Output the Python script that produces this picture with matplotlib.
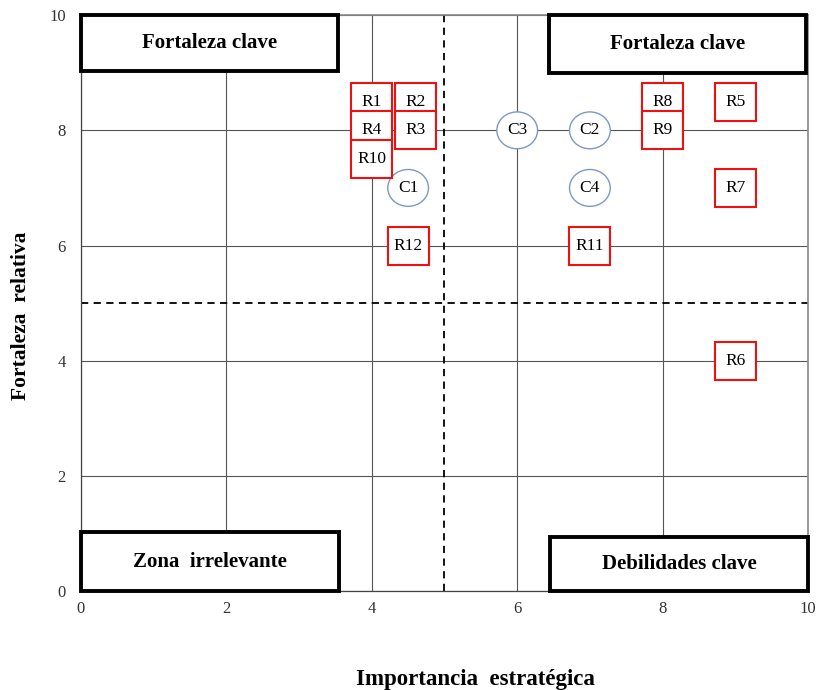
import matplotlib
matplotlib.use("Agg")
import matplotlib.pyplot as plt
from matplotlib.patches import Rectangle, Ellipse

plt.rcParams['font.family'] = ['Liberation Serif', 'DejaVu Serif']

# puntos rojos (R) y círculos (C)
r_names = ["R1", "R2", "R3", "R4", "R5", "R6", "R7", "R8", "R9", "R10", "R11", "R12"]
r_x = [4.0, 4.6, 4.6, 4.0, 9.0, 9.0, 9.0, 8.0, 8.0, 4.0, 7.0, 4.5]
r_y = [8.5, 8.5, 8.0, 8.0, 8.5, 4.0, 7.0, 8.5, 8.0, 7.5, 6.0, 6.0]

c_names = ["C1", "C2", "C3", "C4"]
c_x = [4.5, 7.0, 6.0, 7.0]
c_y = [7.0, 8.0, 8.0, 7.0]

# cuadrantes: texto, x0, y0, ancho, alto
q_names = ["Fortaleza clave", "Fortaleza clave", "Zona  irrelevante", "Debilidades clave"]
q_x = [0.0, 6.44, 0.0, 6.45]
q_y = [9.03, 8.99, 0.0, 0.0]
q_w = [3.53, 3.53, 3.55, 3.55]
q_h = [0.97, 1.01, 1.02, 0.94]

fig = plt.figure(figsize=(8.17, 6.9), dpi=100)
ax = fig.add_axes([0.0991, 0.1435, 0.8899, 0.8345])
ax.set_xlim(0, 10)
ax.set_ylim(0, 10)
ax.set_xticks([0, 2, 4, 6, 8, 10])
ax.set_yticks([0, 2, 4, 6, 8, 10])
ax.tick_params(length=0, labelsize=12, colors='#333333')
ax.tick_params(axis='y', pad=11)
ax.tick_params(axis='x', pad=7)
ax.grid(True, color='#555555', lw=0.8)
ax.set_axisbelow(True)
for s in ['left', 'bottom']:
    ax.spines[s].set_color('#444444')
    ax.spines[s].set_linewidth(0.9)
for s in ['right', 'top']:
    ax.spines[s].set_color('#888888')
    ax.spines[s].set_linewidth(1.2)

# líneas punteadas
ax.axvline(5, color='black', ls=(0, (4, 3)), lw=1.3, zorder=2)
ax.axhline(5, color='black', ls=(0, (4, 3)), lw=1.3, zorder=2)

bw, bh = 0.565, 0.66
for i, name in enumerate(r_names):
    ax.add_patch(Rectangle((r_x[i] - bw / 2, r_y[i] - bh / 2), bw, bh,
                           facecolor='white', edgecolor='#ee1111', lw=1.5, zorder=3 + i * 0.01))
    ax.text(r_x[i], r_y[i], name, ha='center', va='center', fontsize=12.5,
            zorder=3 + i * 0.01 + 0.005)

for i, name in enumerate(c_names):
    ax.add_patch(Ellipse((c_x[i], c_y[i]), 0.56, 0.64, facecolor='white',
                         edgecolor='#7e98c4', lw=1.0, zorder=3))
    ax.text(c_x[i], c_y[i], name, ha='center', va='center', fontsize=12.5, zorder=4)

for i, name in enumerate(q_names):
    ax.add_patch(Rectangle((q_x[i], q_y[i]), q_w[i], q_h[i], facecolor='white',
                           edgecolor='black', lw=2.8, zorder=5, clip_on=False))
    ax.text(q_x[i] + q_w[i] / 2, q_y[i] + q_h[i] / 2, name, ha='center', va='center',
            fontsize=15, fontweight='bold', zorder=6)

fig.text(0.582, 0.0, "Importancia  estratégica", ha='center', va='bottom',
         fontsize=16.5, fontweight='bold')
fig.text(0.013, 0.543, "Fortaleza  relativa", ha='left', va='center', rotation=90,
         fontsize=15.5, fontweight='bold')

plt.savefig("out.png", dpi=100)
